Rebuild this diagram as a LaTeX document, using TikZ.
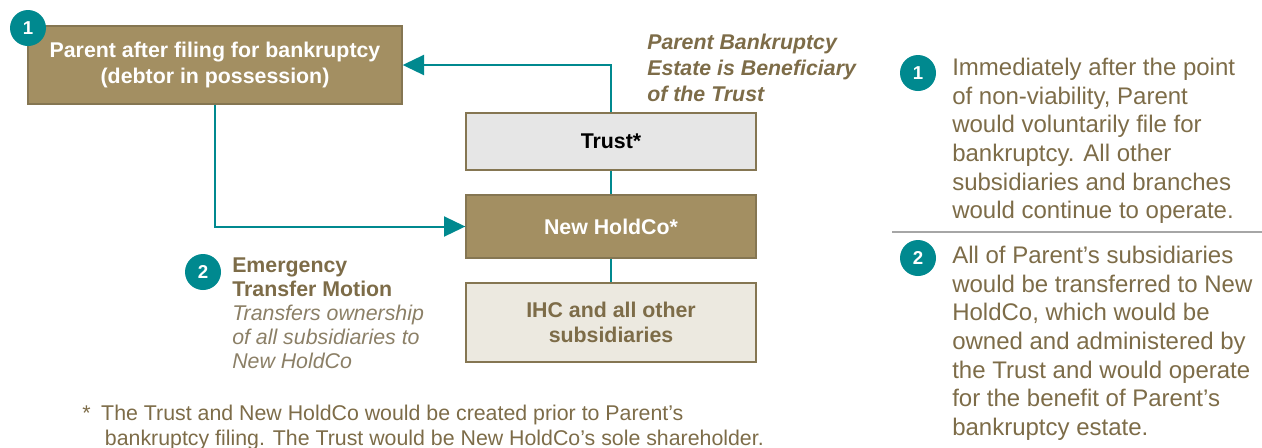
\documentclass[tikz,border=0pt]{standalone}
\usepackage{fontspec}
\setmainfont{Liberation Sans}
\usetikzlibrary{arrows.meta}
\definecolor{verde}{HTML}{00898F}
\definecolor{caqui}{HTML}{A38F62}
\definecolor{borda}{HTML}{857652}
\definecolor{escuro}{HTML}{7D6C48}
\definecolor{claro}{HTML}{8B7F66}
\definecolor{cinza}{HTML}{E6E6E6}
\definecolor{bege}{HTML}{ECE9E0}

\begin{document}
\begin{tikzpicture}[x=0.75pt,y=-0.75pt]
\tikzstyle{caixa}=[rectangle, draw=borda, line width=1pt, minimum width=217.5pt, align=center, font=\bfseries\fontsize{16}{19}\selectfont]
\tikzstyle{numero}=[circle, fill=verde, text=white, minimum size=27pt, inner sep=0pt, font=\bfseries\fontsize{14}{14}\selectfont]
\tikzstyle{linha}=[draw=verde, line width=1.5pt]
\tikzstyle{seta}=[linha, -{Triangle[length=16pt,width=15pt]}]
\tikzstyle{texto}=[anchor=north west, inner sep=0pt, align=left, text=escuro, font=\fontsize{18}{21.5}\selectfont]
\useasboundingbox (0,0) rectangle (1262,447);
 \node[caixa, fill=caqui, text=white, minimum width=280.5pt, minimum height=58.5pt] (parent) at (215,65)
    {Parent after filing for bankruptcy\\(debtor in possession)};
 \node[numero] (num1) at (28,28) {1};
 \node[caixa, fill=cinza, text=black, minimum height=42.75pt] (trust) at (611,141.5) {Trust*};
 \node[caixa, fill=caqui, text=white, minimum height=47.25pt] (holdco) at (611,226.5) {New HoldCo*};
 \node[caixa, fill=bege, text=escuro, minimum height=59.25pt] (ihc) at (611,322.5)
    {IHC and all other\\subsidiaries};
 \draw[seta] (trust.north) |- (parent.east);
 \draw[linha] (trust.south) -- (holdco.north);
 \draw[linha] (holdco.south) -- (ihc.north);
 \draw[seta] (parent.south) |- (holdco.west);
 \node[texto, font=\bfseries\itshape\fontsize{16}{19.5}\selectfont] (benef) at (647,34)
    {Parent Bankruptcy\\Estate is Beneficiary\\of the Trust};
 \node[numero] (num2) at (203,272) {2};
 \node[texto, font=\fontsize{16}{18}\selectfont] (motion) at (232,258)
    {\textbf{Emergency}\\\textbf{Transfer Motion}\\\textcolor{claro}{\itshape Transfers ownership}\\\textcolor{claro}{\itshape of all subsidiaries to}\\\textcolor{claro}{\itshape New HoldCo}};
 \node[numero] (num3) at (918,73) {1};
 \node[texto] (passo1) at (952,58)
    {Immediately after the point\\of non-viability, Parent\\would voluntarily file for\\bankruptcy. All other\\subsidiaries and branches\\would continue to operate.};
 \draw[draw=gray!70, line width=1.5pt] (892,232) -- (1262,232);
 \node[numero] (num4) at (918,258) {2};
 \node[texto] (passo2) at (952,246)
    {All of Parent’s subsidiaries\\would be transferred to New\\HoldCo, which would be\\owned and administered by\\the Trust and would operate\\for the benefit of Parent’s\\bankruptcy estate.};
 \node[texto, font=\fontsize{16}{18.75}\selectfont] (nota) at (82,405)
    {*\hspace{8pt}The Trust and New HoldCo would be created prior to Parent’s\\\hspace{17pt}bankruptcy filing. The Trust would be New HoldCo’s sole shareholder.};
\end{tikzpicture}
\end{document}
